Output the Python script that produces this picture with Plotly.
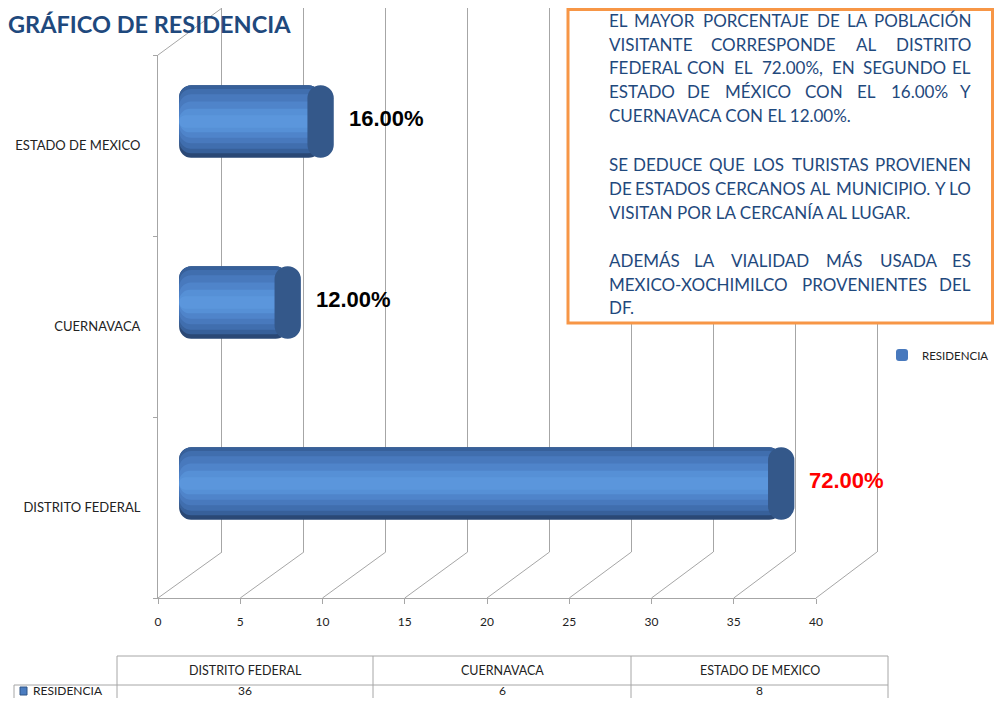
import plotly.graph_objects as go

# ---------------- data ----------------
categories = ["DISTRITO FEDERAL", "CUERNAVACA", "ESTADO DE MEXICO"]
residencia = [36, 6, 8]
series_name = "RESIDENCIA"
x_ticks = [0, 5, 10, 15, 20, 25, 30, 35, 40]
title_text = "GRÁFICO DE RESIDENCIA"
note_paragraphs = [
    ["EL MAYOR PORCENTAJE DE LA POBLACIÓN",
     "VISITANTE CORRESPONDE AL DISTRITO",
     "FEDERAL CON EL 72.00%, EN SEGUNDO EL",
     "ESTADO DE MÉXICO CON EL 16.00% Y",
     "CUERNAVACA CON EL 12.00%."],
    ["SE DEDUCE QUE LOS TURISTAS PROVIENEN",
     "DE ESTADOS CERCANOS AL MUNICIPIO. Y LO",
     "VISITAN POR LA CERCANÍA AL LUGAR."],
    ["ADEMÁS LA VIALIDAD MÁS USADA ES",
     "MEXICO-XOCHIMILCO PROVENIENTES DEL",
     "DF."],
]

# page placement of the figure inside the browser window (body margin)
OX, OY = 8, 8
FW, FH = 986, 690
total = sum(residencia)
pct = [v / total * 100 for v in residencia]
max_v = max(residencia)


def px(x):
    return (x - OX) / FW


def py(y):
    return 1 - (y - OY) / FH


def dom(a, b):
    lo, hi = sorted((a, b))
    return [max(0.0, lo), min(1.0, hi)]


GRID = "#A6A6A6"
TXT_BLUE = "#1F497D"

# geometry (window pixels)
FX0, FX1, FY0, FY1 = 158, 816, 598, 55      # front plane
BX0, BX1, BY0, BY1 = 222, 877, 552, 8       # back wall
UNIT = (FX1 - FX0) / 40.0
CX0 = 189                                   # bar plane zero
XMIN3 = -1.0
CY0, CY1 = 574, 31
LEFT_EXT = 0.6     # left rounded end of cylinder (axis units)
CAP = 0.8          # half width of right cap (axis units)

fig = go.Figure()

# cylinder-like bars built from layered overlay bar traces
layers = [
    ("#2A4875", -0.20, 0.40),
    ("#37609A", -0.175, 0.375),
    ("#406EAE", -0.15, 0.33),
    ("#4879BD", -0.12, 0.27),
    ("#4F84CA", -0.09, 0.20),
    ("#5690D6", -0.06, 0.13),
    ("#5B96DC", -0.035, 0.07),
]
for li, (color, off, w) in enumerate(layers):
    fig.add_trace(go.Bar(
        x=[v + LEFT_EXT for v in residencia], base=[-LEFT_EXT] * len(residencia),
        y=categories, orientation="h", xaxis="x3", yaxis="y3",
        width=w, offset=off,
        marker=dict(color=color, line=dict(width=0), cornerradius=12),
        name=series_name, showlegend=(li == 3), hoverinfo="skip"))

# right cap (end face of cylinder)
fig.add_trace(go.Bar(
    x=[2 * CAP] * len(residencia), base=[v - CAP for v in residencia],
    y=categories, orientation="h", xaxis="x3", yaxis="y3",
    width=0.40, offset=-0.20,
    marker=dict(color="#34588A", line=dict(width=0), cornerradius=13),
    showlegend=False, hoverinfo="skip"))

# invisible points so the front and back-wall subplots render
fig.add_trace(go.Scatter(x=[0] * len(categories), y=categories, xaxis="x",
                         yaxis="y", mode="markers", marker=dict(opacity=0),
                         showlegend=False, hoverinfo="skip"))
fig.add_trace(go.Scatter(x=[0], y=[0], xaxis="x2", yaxis="y2", mode="markers",
                         marker=dict(opacity=0), showlegend=False,
                         hoverinfo="skip"))

fig.update_layout(
    width=FW, height=FH,
    margin=dict(l=0, r=0, t=0, b=0, autoexpand=False),
    paper_bgcolor="white", plot_bgcolor="rgba(0,0,0,0)",
    barmode="overlay",
    font=dict(family="Lato, Arial", size=12, color="#222222"),
    showlegend=True,
    legend=dict(x=px(882), y=py(355), xanchor="left", yanchor="middle",
                font=dict(family="Lato", size=11.5, color="#222222"),
                bgcolor="rgba(0,0,0,0)", itemwidth=30),
    # front axes
    xaxis=dict(domain=dom(px(FX0), px(FX1)), range=[0, 40], tickvals=x_ticks,
               showgrid=False, zeroline=False, showline=True, linecolor=GRID,
               ticks="outside", ticklen=5, tickcolor=GRID, anchor="y",
               tickfont=dict(family="Lato", size=12, color="#222222"),
               ticklabelstandoff=8, fixedrange=True),
    yaxis=dict(domain=dom(py(FY0), py(FY1)), type="category",
               categoryorder="array", categoryarray=categories,
               range=[-0.5, len(categories) - 0.5],
               showgrid=False, zeroline=False, showline=True, linecolor=GRID,
               ticks="outside", ticklen=4, tickcolor=GRID, tickson="boundaries",
               anchor="x", ticklabelstandoff=14,
               tickfont=dict(family="Lato", size=13, color="#222222"),
               fixedrange=True),
    # back wall
    xaxis2=dict(domain=dom(px(BX0), px(BX1)), range=[0, 40], tickvals=x_ticks,
                showgrid=True, gridcolor=GRID, gridwidth=1,
                zeroline=True, zerolinecolor=GRID, zerolinewidth=1,
                showticklabels=False, showline=False, anchor="y2",
                fixedrange=True),
    yaxis2=dict(domain=dom(py(BY0), py(BY1)), range=[0, 1], showgrid=False,
                zeroline=False, showticklabels=False, showline=True,
                mirror=True, linecolor=GRID, anchor="x2", fixedrange=True),
    # bar plane
    xaxis3=dict(domain=dom(px(CX0 + XMIN3 * UNIT), px(CX0 + 40 * UNIT + 30)),
                range=[XMIN3, 40 + 30 / UNIT], visible=False,
                anchor="y3", fixedrange=True),
    yaxis3=dict(domain=dom(py(CY0), py(CY1)), type="category",
                categoryorder="array", categoryarray=categories,
                range=[-0.5, len(categories) - 0.5],
                visible=False, anchor="x3", fixedrange=True),
)

shapes = []
# floor diagonals at each x tick
for v in x_ticks:
    fx = FX0 + (FX1 - FX0) * v / 40
    bx = BX0 + (BX1 - BX0) * v / 40
    shapes.append(dict(type="line", xref="paper", yref="paper",
                       x0=px(fx), y0=py(FY0), x1=px(bx), y1=py(BY0),
                       line=dict(color=GRID, width=1), layer="below"))
# left wall top diagonal
shapes.append(dict(type="line", xref="paper", yref="paper",
                   x0=px(FX0), y0=py(FY1), x1=px(BX0), y1=py(BY1),
                   line=dict(color=GRID, width=1), layer="below"))

# text box
shapes.append(dict(type="rect", xref="paper", yref="paper",
                   x0=px(568), x1=min(px(1000), 0.9985), y0=py(323),
                   y1=min(py(3), 0.998),
                   line=dict(color="#F79646", width=3), fillcolor="white",
                   layer="above"))

# data table lines
TCOLS = [117, 373, 631, 888]
TR0, TR1, TR2 = 656, 685, 706
shapes.append(dict(type="line", xref="paper", yref="paper",
                   x0=px(TCOLS[0]), x1=px(TCOLS[-1]), y0=py(TR0), y1=py(TR0),
                   line=dict(color=GRID, width=1)))
shapes.append(dict(type="line", xref="paper", yref="paper",
                   x0=px(14), x1=px(TCOLS[-1]), y0=py(TR1), y1=py(TR1),
                   line=dict(color=GRID, width=1)))
for cx in TCOLS:
    shapes.append(dict(type="line", xref="paper", yref="paper",
                       x0=px(cx), x1=px(cx), y0=py(TR0), y1=max(py(TR2), 0),
                       line=dict(color=GRID, width=1)))
shapes.append(dict(type="line", xref="paper", yref="paper",
                   x0=px(14), x1=px(14), y0=py(TR1), y1=max(py(TR2), 0),
                   line=dict(color=GRID, width=1)))
# legend key in table
shapes.append(dict(type="rect", xref="paper", yref="paper",
                   x0=px(20), x1=px(27), y0=py(695), y1=py(687),
                   line=dict(color="#2F5486", width=1), fillcolor="#4A7CC0"))

annotations = []
# title
annotations.append(dict(text="<b>" + title_text + "</b>", xref="paper",
                        yref="paper", x=px(6), y=py(24), xanchor="left",
                        yanchor="middle", showarrow=False,
                        font=dict(family="Lato", size=23.5, color=TXT_BLUE)))

# value labels
for cat, v, p in zip(categories, residencia, pct):
    color = "#FF0000" if v == max_v else "#000000"
    annotations.append(dict(text="<b>%.2f%%</b>" % p, x=v, y=cat,
                            xref="x3", yref="y3", xanchor="left",
                            yanchor="middle", xshift=26, yshift=3,
                            showarrow=False,
                            font=dict(family="Arial", size=22, color=color)))

# note text (justified lines simulated word by word)
NOTE_SIZE = 17
LAT_W = {
    "A": .68, "B": .64, "C": .66, "D": .74, "E": .56, "F": .54, "G": .72,
    "H": .76, "I": .28, "J": .40, "K": .66, "L": .50, "M": .92, "N": .76,
    "O": .80, "P": .60, "Q": .80, "R": .62, "S": .53, "T": .58, "U": .73,
    "V": .68, "W": 1.0, "X": .65, "Y": .62, "Z": .62, ".": .22, ",": .22,
    "%": .82, "-": .36, " ": .26, "Á": .68, "É": .56, "Í": .28, "Ó": .80,
}


def text_w(s):
    return sum(LAT_W.get(c, .58) for c in s) * NOTE_SIZE


LX0, LX1 = 607, 973
y = 20
for para in note_paragraphs:
    for i, line in enumerate(para):
        last = (i == len(para) - 1)
        words = line.split()
        font = dict(family="Lato", size=NOTE_SIZE, color=TXT_BLUE)
        if last or len(words) < 2:
            annotations.append(dict(text=line, xref="paper", yref="paper",
                                    x=px(LX0), y=py(y), xanchor="left",
                                    yanchor="middle", showarrow=False,
                                    font=font))
        else:
            widths = [text_w(w_) for w_ in words]
            gap = (LX1 - LX0 - sum(widths)) / (len(words) - 1)
            cur = LX0
            for j, (wd, ww) in enumerate(zip(words, widths)):
                if j == 0:
                    xa, xx = "left", LX0
                elif j == len(words) - 1:
                    xa, xx = "right", LX1
                else:
                    xa, xx = "center", cur + ww / 2
                annotations.append(dict(text=wd, xref="paper", yref="paper",
                                        x=px(xx), y=py(y), xanchor=xa,
                                        yanchor="middle", showarrow=False,
                                        font=font))
                cur += ww + gap
        y += 24
    y += 24

# table text
for k, (cat, v) in enumerate(zip(categories, residencia)):
    cxm = (TCOLS[k] + TCOLS[k + 1]) / 2
    annotations.append(dict(text=cat, xref="paper", yref="paper", x=px(cxm),
                            y=py(670), xanchor="center", yanchor="middle",
                            showarrow=False,
                            font=dict(family="Lato", size=12.5, color="#222222")))
    annotations.append(dict(text=str(v), xref="paper", yref="paper", x=px(cxm),
                            y=py(690), xanchor="center", yanchor="middle",
                            showarrow=False,
                            font=dict(family="Lato", size=12, color="#222222")))
annotations.append(dict(text=series_name, xref="paper", yref="paper",
                        x=px(31), y=py(690), xanchor="left", yanchor="middle",
                        showarrow=False,
                        font=dict(family="Lato", size=12, color="#222222")))

fig.update_layout(shapes=shapes, annotations=annotations)

fig.write_html("out.html")
